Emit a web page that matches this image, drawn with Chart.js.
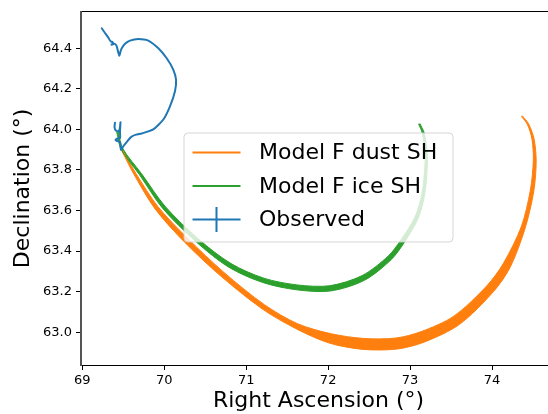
<!DOCTYPE html>
<html>
<head>
<meta charset="utf-8">
<script src="https://cdn.jsdelivr.net/npm/chart.js@4.4.1/dist/chart.umd.min.js"></script>
<style>
  html, body { margin: 0; padding: 0; background: #ffffff; overflow: hidden; }
  #wrap { width: 548px; height: 414px; overflow: hidden; position: relative; }
  canvas { display: block; }
</style>
</head>
<body>
<div id="wrap"><canvas id="c" width="560" height="414" style="width:560px;height:414px"></canvas></div>
<script>
// ---- Data ----
const seriesLabels = ['Model F dust SH', 'Model F ice SH', 'Observed'];

// Model F dust SH: the band of tracks, outer and inner envelope
const dustOuterRA  = [69.485, 69.632, 69.888, 70.250, 70.683, 71.194, 71.603, 72.008, 72.424, 72.846, 73.186, 73.605, 74.016, 74.222, 74.406, 74.510, 74.539, 74.513, 74.447, 74.371];
const dustOuterDec = [63.892, 63.777, 63.608, 63.443, 63.279, 63.115, 63.018, 62.947, 62.915, 62.917, 62.953, 63.039, 63.199, 63.320, 63.515, 63.696, 63.844, 63.953, 64.027, 64.066];
const dustInnerRA  = [69.496, 69.654, 69.923, 70.293, 70.725, 71.224, 71.630, 72.038, 72.434, 72.828, 73.137, 73.534, 73.935, 74.137, 74.358, 74.467, 74.504, 74.488, 74.431, 74.361];
const dustInnerDec = [63.894, 63.783, 63.619, 63.460, 63.296, 63.135, 63.041, 62.992, 62.969, 62.971, 63.003, 63.079, 63.228, 63.338, 63.521, 63.698, 63.844, 63.951, 64.025, 64.063];

// Model F ice SH: outer and inner envelope
const iceOuterRA  = [69.421, 69.474, 69.698, 69.982, 70.391, 70.789, 71.201, 71.613, 72.027, 72.444, 72.775, 72.935, 73.101, 73.179, 73.209, 73.207, 73.172, 73.121];
const iceOuterDec = [63.985, 63.901, 63.776, 63.610, 63.445, 63.320, 63.245, 63.209, 63.203, 63.256, 63.360, 63.446, 63.563, 63.680, 63.811, 63.894, 63.983, 64.028];
const iceInnerRA  = [69.438, 69.495, 69.722, 70.012, 70.421, 70.816, 71.217, 71.620, 72.019, 72.415, 72.735, 72.892, 73.061, 73.144, 73.180, 73.182, 73.151, 73.105];
const iceInnerDec = [63.988, 63.905, 63.782, 63.620, 63.458, 63.338, 63.266, 63.233, 63.229, 63.279, 63.376, 63.457, 63.569, 63.682, 63.812, 63.893, 63.980, 64.026];

// Observed track
const obsRA  = [69.237, 69.271, 69.314, 69.344, 69.369, 69.381, 69.356, 69.387, 69.417, 69.436, 69.452, 69.466, 69.481, 69.521, 69.582, 69.683, 69.805, 69.928, 70.030, 70.111, 70.144, 70.131, 70.070, 69.989, 69.866, 69.725, 69.655, 69.594, 69.546, 69.503, 69.472, 69.466, 69.460, 69.430, 69.405, 69.423, 69.460, 69.460, 69.466, 69.458, 69.442, 69.411, 69.393, 69.399];
const obsDec = [64.499, 64.479, 64.455, 64.435, 64.430, 64.421, 64.418, 64.423, 64.413, 64.384, 64.363, 64.384, 64.400, 64.422, 64.438, 64.446, 64.438, 64.400, 64.351, 64.294, 64.245, 64.188, 64.114, 64.049, 64.000, 63.980, 63.974, 63.962, 63.940, 63.918, 63.898, 63.918, 63.937, 63.942, 63.947, 63.954, 63.957, 63.991, 64.035, 64.006, 63.991, 63.994, 64.011, 64.033];

// Axis ticks
const xTicks = [69, 70, 71, 72, 73, 74];
const xTickLabels = ['69', '70', '71', '72', '73', '74'];
const yTicks = [63.0, 63.2, 63.4, 63.6, 63.8, 64.0, 64.2, 64.4];
const yTickLabels = ['63.0', '63.2', '63.4', '63.6', '63.8', '64.0', '64.2', '64.4'];
const xTitle = 'Right Ascension (°)';
const yTitle = 'Declination (°)';

// ---- Build ----
const pts = (xs, ys) => xs.map((x, i) => ({ x: x, y: ys[i] }));
const C_OBS = '#1f77b4', C_ICE = '#2ca02c', C_DUST = '#ff7f0e';
const FONT = '"DejaVu Sans", "Liberation Sans", sans-serif';

const datasets = [
  { label: seriesLabels[2], data: pts(obsRA, obsDec), borderColor: C_OBS, borderWidth: 2, tension: 0.2, pointRadius: 0, fill: false },
  { label: seriesLabels[1], data: pts(iceInnerRA, iceInnerDec), borderColor: C_ICE, borderWidth: 1, tension: 0.3, pointRadius: 0, fill: false },
  { label: seriesLabels[1], data: pts(iceOuterRA, iceOuterDec), borderColor: C_ICE, borderWidth: 1, tension: 0.3, pointRadius: 0, fill: false },
  { label: seriesLabels[0], data: pts(dustInnerRA, dustInnerDec), borderColor: C_DUST, borderWidth: 1, tension: 0.3, pointRadius: 0, fill: false },
  { label: seriesLabels[0], data: pts(dustOuterRA, dustOuterDec), borderColor: C_DUST, borderWidth: 1, tension: 0.3, pointRadius: 0, fill: false }
];

// Fill between the envelope lines of each model band, using the scaled points
function tracePath(ctx, arr, reverse, first) {
  const n = arr.length;
  if (!reverse) {
    if (first) ctx.moveTo(arr[0].x, arr[0].y); else ctx.lineTo(arr[0].x, arr[0].y);
    for (let i = 1; i < n; i++) {
      const p = arr[i - 1], q = arr[i];
      if (p.cp2x !== undefined && q.cp1x !== undefined) ctx.bezierCurveTo(p.cp2x, p.cp2y, q.cp1x, q.cp1y, q.x, q.y);
      else ctx.lineTo(q.x, q.y);
    }
  } else {
    ctx.lineTo(arr[n - 1].x, arr[n - 1].y);
    for (let i = n - 1; i > 0; i--) {
      const p = arr[i], q = arr[i - 1];
      if (p.cp1x !== undefined && q.cp2x !== undefined) ctx.bezierCurveTo(p.cp1x, p.cp1y, q.cp2x, q.cp2y, q.x, q.y);
      else ctx.lineTo(q.x, q.y);
    }
  }
}
const bandPlugin = {
  id: 'bands',
  beforeDatasetsDraw(chart) {
    const ctx = chart.ctx;
    const pairs = [[3, 4, C_DUST], [1, 2, C_ICE]];
    ctx.save();
    const a = chart.chartArea;
    ctx.beginPath(); ctx.rect(a.left, a.top, a.right - a.left, a.bottom - a.top); ctx.clip();
    pairs.forEach(([i, o, col]) => {
      const mi = chart.getDatasetMeta(i), mo = chart.getDatasetMeta(o);
      mi.dataset.updateControlPoints(chart.chartArea, 'x');
      mo.dataset.updateControlPoints(chart.chartArea, 'x');
      ctx.beginPath();
      tracePath(ctx, mi.data, false, true);
      tracePath(ctx, mo.data, true, false);
      ctx.closePath();
      ctx.fillStyle = col;
      ctx.fill();
    });
    ctx.restore();
  }
};

// Legend drawn inside the axes, like the original
const legendPlugin = {
  id: 'inLegend',
  afterDraw(chart) {
    const ctx = chart.ctx;
    const x0 = 184, y0 = 133, w = 269, h = 109, r = 4;
    ctx.save();
    ctx.beginPath();
    ctx.moveTo(x0 + r, y0);
    ctx.arcTo(x0 + w, y0, x0 + w, y0 + h, r);
    ctx.arcTo(x0 + w, y0 + h, x0, y0 + h, r);
    ctx.arcTo(x0, y0 + h, x0, y0, r);
    ctx.arcTo(x0, y0, x0 + w, y0, r);
    ctx.closePath();
    ctx.fillStyle = 'rgba(255,255,255,0.8)';
    ctx.fill();
    ctx.strokeStyle = 'rgba(204,204,204,0.8)';
    ctx.lineWidth = 1;
    ctx.stroke();
    const entries = [
      { text: chart.data.datasets[3].label, color: C_DUST, y: 152.5, bar: false },
      { text: chart.data.datasets[1].label, color: C_ICE, y: 186, bar: false },
      { text: chart.data.datasets[0].label, color: C_OBS, y: 219.5, bar: true }
    ];
    entries.forEach(e => {
      ctx.strokeStyle = e.color;
      ctx.lineWidth = 2;
      ctx.beginPath();
      ctx.moveTo(192.5, e.y); ctx.lineTo(240.5, e.y);
      if (e.bar) { ctx.moveTo(216.5, e.y - 12.5); ctx.lineTo(216.5, e.y + 12.5); }
      ctx.stroke();
      ctx.fillStyle = '#000';
      ctx.font = '22px ' + FONT;
      ctx.textBaseline = 'middle';
      ctx.textAlign = 'left';
      ctx.fillText(e.text, 259, e.y + 1);
    });
    ctx.restore();
  }
};

Chart.defaults.font.family = FONT;
Chart.defaults.color = '#000';

new Chart(document.getElementById('c'), {
  type: 'line',
  data: { datasets: datasets },
  options: {
    responsive: false,
    animation: false,
    devicePixelRatio: 1,
    layout: { padding: { left: 0, right: 4, top: 10, bottom: 0 } },
    plugins: { legend: { display: false }, tooltip: { enabled: false } },
    elements: { line: { borderCapStyle: 'round', borderJoinStyle: 'round' } },
    scales: {
      x: {
        type: 'linear', position: 'bottom',
        min: 68.984, max: 74.781,
        afterBuildTicks: s => { s.ticks = xTicks.map(v => ({ value: v })); },
        afterFit: s => { s.height = 49; },
        ticks: { callback: (v, i) => xTickLabels[i], font: { size: 13 }, padding: 3, maxRotation: 0, autoSkip: false },
        grid: { display: true, drawOnChartArea: false, drawTicks: true, tickLength: 5, tickColor: '#000', tickWidth: 1 },
        border: { display: true, color: '#000', width: 1 },
        title: { display: true, text: xTitle, font: { size: 22 }, padding: { top: 0, bottom: 0 } }
      },
      x2: {
        type: 'linear', position: 'top', min: 68.984, max: 74.781,
        afterFit: s => { s.height = 0; },
        ticks: { display: false },
        grid: { display: false, drawTicks: false },
        border: { display: true, color: '#000', width: 1 }
      },
      y: {
        type: 'linear', position: 'left',
        min: 62.838, max: 64.580,
        afterBuildTicks: s => { s.ticks = yTicks.map(v => ({ value: v })); },
        afterFit: s => { s.width = 81; },
        ticks: { callback: (v, i) => yTickLabels[i], font: { size: 13 }, padding: 4, autoSkip: false },
        grid: { display: true, drawOnChartArea: false, drawTicks: true, tickLength: 5, tickColor: '#000', tickWidth: 1 },
        border: { display: true, color: '#555', width: 2 },
        title: { display: true, text: yTitle, font: { size: 22 }, padding: { top: 10, bottom: 0 } }
      }
    }
  },
  plugins: [bandPlugin, legendPlugin]
});
</script>
</body>
</html>
